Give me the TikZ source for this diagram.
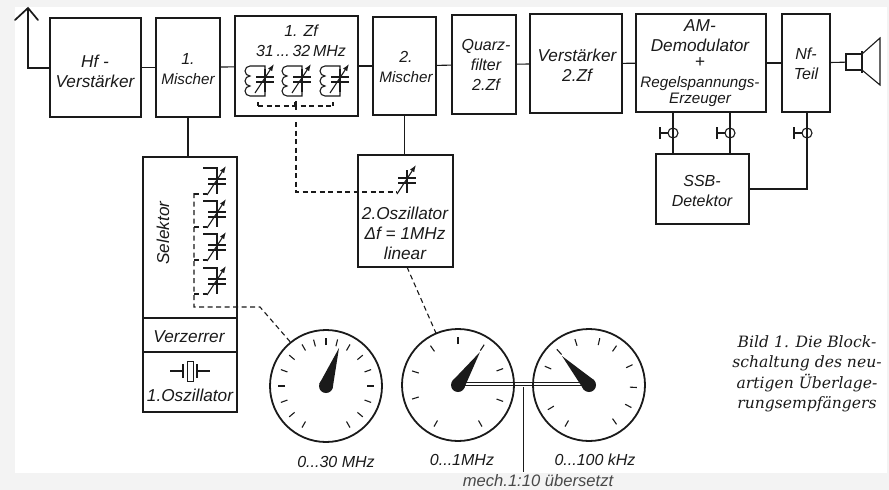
\documentclass[tikz,border=0pt]{standalone}
\usepackage{fontspec}
\setmainfont{Liberation Sans}
\newfontfamily\capfont{DejaVu Serif}
\usetikzlibrary{positioning,backgrounds,calc,arrows.meta}
\definecolor{ScanInk}{HTML}{1A1A1A}
\definecolor{ScanGray}{HTML}{F3F3F3}
\newcommand{\labfont}{\fontsize{16}{20}\selectfont\itshape}
\newcommand{\widefont}{\fontsize{17.2}{20}\selectfont\itshape}
\newcommand{\slimfont}{\fontsize{15.2}{18}\selectfont}
\tikzset{
  block/.style={draw=ScanInk,line width=2.2pt,inner sep=0pt,outer sep=0pt},
  lab/.style={font=\labfont,text=ScanInk,align=center,inner sep=0pt},
  labwide/.style={lab,font=\widefont},
  wire/.style={draw=ScanInk,line width=1.1pt},
  gang/.style={draw=ScanInk,line width=1.1pt,dash pattern=on 5pt off 3.5pt},
  dial/.style={circle,draw=ScanInk,line width=1.8pt,minimum size=112pt,inner sep=0pt,outer sep=0pt},
  dialtick/.style={draw=ScanInk,line width=1.1pt},
}
% tuning capacitor with its arrow
\newcommand{\DrehKo}[2]{
  \begin{scope}[shift={(#1,#2)}]
    \draw[wire] (0,-11)--(0,12);
    \draw[ScanInk,line width=2.2pt] (-9,-3)--(9,-3) (-9,2)--(9,2);
    \draw[wire,-{Latex[length=7pt,width=5pt]}] (-10,13)--(9,-16);
  \end{scope}}
% jack on a vertical wire
\newcommand{\Buchse}[1]{
  \draw[wire] (#1) circle (5pt);
  \draw[wire] ($(#1)+(-5,0)$)--($(#1)+(-13,0)$);
  \draw[ScanInk,line width=2.2pt] ($(#1)+(-13,-6)$)--($(#1)+(-13,6)$);}
\begin{document}
\begin{tikzpicture}[x=1pt,y=-1pt]
  \useasboundingbox (0,0) rectangle (889,490);
  \begin{scope}[on background layer]
    \fill[ScanGray] (0,0) rectangle (889,490);
    \fill[white] (15,7) rectangle (887,473);
    \coordinate (shaftL) at (458,384);
    \coordinate (shaftR) at (589,384);
    \draw[ScanInk,line width=.9pt,double=white,double distance=2.8pt] (shaftL)--(shaftR);
  \end{scope}
  % blocks: name/x/y/width/height
  \foreach \name/\x/\y/\w/\h in {hf/95.5/67.5/91/99,mixa/188/67.5/64/99,zfa/296.5/66/123/100,
      mixb/404.5/66/63/98,quarz/484/64.5/64/99,versb/576/63.5/92/99,am/701/63/130/98,nf/806/63/48/98,
      ssb/702.5/189/93/70,sel/190/237.5/94/161,verz/190/335/94/34,osza/190/382/94/60,oszb/405.5/211/95/112}{
    \node[block,minimum width=\w pt,minimum height=\h pt] (\name) at (\x,\y) {};}
  % labels
  \node[labwide] (hflab) at (95,71) {Hf -\\Verstärker};
  \node[lab] (mixalab) at (188,69) {1.\\{\slimfont Mischer}};
  \node[lab] (zflab) at (301,41) {1. Zf\\31\,...\,32\,MHz};
  \node[lab] (mixblab) at (406,67) {2.\\{\slimfont Mischer}};
  \node[lab] (quarzlab) at (486,65) {Quarz-\\filter\\2.Zf};
  \node[labwide] (versblab) at (577,65.5) {Verstärker\\2.Zf};
  \node[labwide] (amlab) at (700,63) {AM-\\Demodulator\\[-4pt]+\\{\slimfont Regelspannungs-}\\[-4pt]{\slimfont Erzeuger}};
  \node[lab] (nflab) at (806,64) {Nf-\\Teil};
  \node[lab] (ssblab) at (702,191) {SSB-\\Detektor};
  \node[labwide,rotate=90] (sellab) at (163,233) {Selektor};
  \node[labwide] (verzlab) at (189,337) {Verzerrer};
  \node[labwide] (oszalab) at (190,395) {1.Oszillator};
  \node[labwide] (oszblab) at (405,233) {2.Oszillator\\Δf = 1MHz\\linear};
  % signal path
  \coordinate (anttop) at (28,8);
  \draw[wire] (hf.west |- 0,68) -| (anttop);
  \draw[wire,line width=1.7pt,line cap=round] (15,20)--(anttop)--(38,20);
  \foreach \a/\b in {hf/mixa,mixa/zfa,zfa/mixb,mixb/quarz,quarz/versb,versb/am,am/nf}{
    \draw[wire] (\a)--(\b);}
  \draw[wire] (mixa.south) -- (mixa.south |- sel.north);
  \draw[wire] (mixb.south) -- (mixb.south |- oszb.north);
  % loudspeaker
  \node[draw=ScanInk,line width=1.1pt,minimum width=16pt,minimum height=16pt,inner sep=0pt,outer sep=0pt] (spk) at (854,62) {};
  \draw[wire] (nf)--(spk);
  \draw[ScanInk,line width=2.4pt] (862,51)--(862,73);
  \draw[wire] (spk.north east)--(880,38)--(880,85)--(spk.south east);
  % jacks
  \coordinate (jacka) at (673,133);
  \coordinate (jackb) at (730,133);
  \coordinate (jackc) at (807,133);
  \draw[wire] (am.south -| jacka) -- (ssb.north -| jacka);
  \draw[wire] (am.south -| jackb) -- (ssb.north -| jackb);
  \draw[wire] (nf.south -| jackc) |- (ssb.east);
  \foreach \j in {jacka,jackb,jackc}{\Buchse{\j}}
  % 1. Zf
  \foreach \x in {265,302,340}{
    \DrehKo{\x}{80}
    \draw[wire] (\x,69) -- (\x,66) -- (\x-15,66)
       arc[start angle=90,end angle=270,radius=5pt]
       arc[start angle=90,end angle=270,radius=5pt]
       arc[start angle=90,end angle=270,radius=5pt] -- (\x,96) -- (\x,90);
    \draw[wire] (\x-7,102) -- (\x-7,106);}
  \draw[gang] (258,106)--(333,106);
  \draw[wire] (296,101)--(296,110);
  % 2. oscillator and its gang line
  \DrehKo{407}{181}
  \coordinate (ganga) at (296,122);
  \coordinate (gangb) at (397,192);
  \draw[gang] (ganga) |- (gangb);
  % selector
  \foreach \y in {182,215,248,282}{
    \DrehKo{217}{\y}
    \draw[wire] (203,\y-14)--(217,\y-14)--(217,\y-11);
    \draw[gang] (194,\y+12)--(207,\y+12);}
  \coordinate (selup) at (194,193);
  \coordinate (seldn) at (194,307);
  \coordinate (selout) at (260,307);
  % dials
  \node[dial] (dia) at (326,386) {};
  \node[dial] (dib) at (458,385) {};
  \node[dial] (dic) at (589,385) {};
  \draw[gang] (selup)--(seldn)--(selout)--(dia.129);
  \draw[gang] (oszb.south -| 407,0)--(dib.113);
  \foreach \a in {-60,-40,-20,0,20,40,60,76,90,105,120,140,160,180,200,220,240}{
    \draw[dialtick] ($(dia)+(\a:41pt)$)--($(dia)+(\a:48pt)$);}
  \foreach \a in {-60,-20,20,57,90,125,163,197,240}{
    \draw[dialtick] ($(dib)+(\a:41pt)$)--($(dib)+(\a:48pt)$);}
  \foreach \a in {-55,-28,-3,25,55,77,107,132,157,211,240}{
    \draw[dialtick] ($(dic)+(\a:41pt)$)--($(dic)+(\a:48pt)$);}
  % pointers
  \foreach \d/\x/\y in {dia/339/348,dib/480/352,dic/562/356}{
    \coordinate (tip) at (\x,\y);
    \fill[ScanInk] (tip)--($(\d)!7pt!90:(tip)$)--($(\d)!7pt!-90:(tip)$)--cycle;
    \fill[ScanInk] (\d) circle (7pt);}
  % dial captions
  \node[lab] (scalea) at (336,462) {0...30 MHz};
  \node[lab] (scaleb) at (462,460) {0...1MHz};
  \node[lab] (scalec) at (595,460) {0...100 kHz};
  \node[lab,font=\fontsize{16.6}{18}\selectfont\itshape,text=ScanInk!80] (mech) at (538,481) {mech.1:10 übersetzt};
  \coordinate (shaftdrop) at ($(shaftL)!.5!(shaftR)+(0,3)$);
  \draw[wire] (shaftdrop)--(shaftdrop |- 0,472);
  % crystal
  \coordinate (xtal) at (190,371);
  \draw[ScanInk,line width=1pt] ($(xtal)+(-3,-10)$) rectangle ($(xtal)+(3,10)$);
  \draw[ScanInk,line width=2pt] ($(xtal)+(-7,-7)$)--($(xtal)+(-7,7)$) ($(xtal)+(7,-7)$)--($(xtal)+(7,7)$);
  \draw[wire] ($(xtal)+(-20,0)$)--($(xtal)+(-7,0)$) ($(xtal)+(7,0)$)--($(xtal)+(20,0)$);
  % figure caption
  \node[font=\capfont\fontsize{15.6}{20.5}\selectfont\itshape,text=ScanInk,align=center,inner sep=0pt] (cap) at (807,374)
     {Bild 1. Die Block-\\schaltung des neu-\\artigen Überlage-\\rungsempfängers};
\end{tikzpicture}
\end{document}
